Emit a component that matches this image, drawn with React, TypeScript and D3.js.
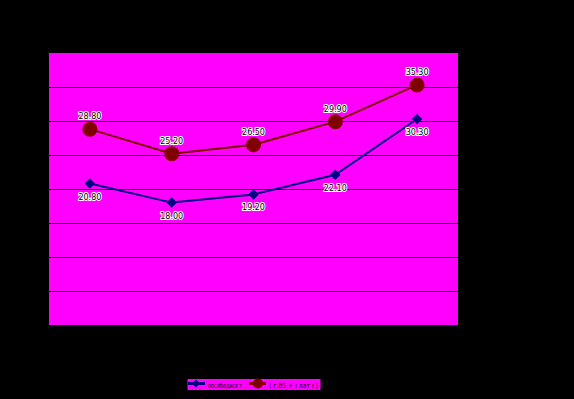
import React, { useEffect, useRef } from 'react';
import * as d3 from 'd3';

const categories = ['1', '2', '3', '4', '5'];
const seriesBlue = [20.8, 18.0, 19.2, 22.1, 30.3];
const seriesRed = [28.8, 25.2, 26.5, 29.9, 35.3];
const seriesNames = ['послбюдисе т', '( г.б5 + ı лат ı )'];
const yTicks = [5, 10, 15, 20, 25, 30, 35];

const App: React.FC = () => {
  const svgRef = useRef<SVGSVGElement>(null);

  useEffect(() => {
    if (!svgRef.current) return;
    const svg = d3.select(svgRef.current);
    svg.selectAll('*').remove();

    const width = 574;
    const height = 399;
    const plot = { left: 49, right: 458, top: 53, bottom: 325 };

    svg.append('rect').attr('width', width).attr('height', height).attr('fill', '#000');

    const x = d3
      .scalePoint<string>()
      .domain(categories)
      .range([plot.left, plot.right])
      .padding(0.5);
    const y = d3.scaleLinear().domain([0, 40]).range([plot.bottom, plot.top]);

    // plot area
    svg
      .append('rect')
      .attr('x', plot.left)
      .attr('y', plot.top)
      .attr('width', plot.right - plot.left)
      .attr('height', plot.bottom - plot.top)
      .attr('fill', '#ff00ff');

    // gridlines
    svg
      .append('g')
      .selectAll('line')
      .data(yTicks)
      .enter()
      .append('line')
      .attr('x1', plot.left)
      .attr('x2', plot.right)
      .attr('y1', d => Math.round(y(d)) + 0.5)
      .attr('y2', d => Math.round(y(d)) + 0.5)
      .attr('stroke', '#000')
      .attr('stroke-width', 1);

    const line = d3
      .line<number>()
      .x((_, i) => x(categories[i]) ?? 0)
      .y(d => y(d));

    // blue series
    svg
      .append('path')
      .datum(seriesBlue)
      .attr('d', line)
      .attr('fill', 'none')
      .attr('stroke', '#000080')
      .attr('stroke-width', 2);

    svg
      .append('g')
      .selectAll('path')
      .data(seriesBlue)
      .enter()
      .append('path')
      .attr('d', d3.symbol().type(d3.symbolDiamond2).size(70))
      .attr('transform', (d, i) => `translate(${x(categories[i])},${y(d)})`)
      .attr('fill', '#000080');

    // red series
    svg
      .append('path')
      .datum(seriesRed)
      .attr('d', line)
      .attr('fill', 'none')
      .attr('stroke', '#800000')
      .attr('stroke-width', 2);

    svg
      .append('g')
      .selectAll('circle')
      .data(seriesRed)
      .enter()
      .append('circle')
      .attr('cx', (_, i) => x(categories[i]) ?? 0)
      .attr('cy', d => y(d))
      .attr('r', 7.5)
      .attr('fill', '#800000');

    // data labels
    const label = (g: d3.Selection<SVGGElement, unknown, null, undefined>, data: number[], dy: number) =>
      g
        .selectAll('text')
        .data(data)
        .enter()
        .append('text')
        .attr('x', (_, i) => x(categories[i]) ?? 0)
        .attr('y', d => y(d) + dy)
        .attr('text-anchor', 'middle')
        .attr('font-family', 'DejaVu Sans, sans-serif')
        .attr('font-size', 8)
        .attr('fill', '#000')
        .attr('stroke', '#fff')
        .attr('stroke-width', 2)
        .attr('paint-order', 'stroke')
        .text(d => d.toFixed(2));

    label(svg.append('g'), seriesRed, -10);
    label(svg.append('g'), seriesBlue, 16);

    // legend
    const lg = svg.append('g');
    lg.append('rect')
      .attr('x', 187)
      .attr('y', 378.5)
      .attr('width', 134)
      .attr('height', 12)
      .attr('fill', '#ff00ff')
      .attr('stroke', '#000');

    lg.append('line')
      .attr('x1', 188).attr('x2', 205)
      .attr('y1', 383.5).attr('y2', 383.5)
      .attr('stroke', '#000080').attr('stroke-width', 3);
    lg.append('path')
      .attr('d', d3.symbol().type(d3.symbolDiamond2).size(40))
      .attr('transform', 'translate(196,383.5)')
      .attr('fill', '#000080');
    lg.append('text')
      .attr('x', 208).attr('y', 388)
      .attr('font-family', 'DejaVu Sans, sans-serif')
      .attr('font-size', 7)
      .attr('textLength', 34)
      .attr('lengthAdjust', 'spacingAndGlyphs')
      .attr('fill', '#000')
      .text(seriesNames[0]);

    lg.append('line')
      .attr('x1', 249).attr('x2', 266)
      .attr('y1', 383.5).attr('y2', 383.5)
      .attr('stroke', '#800000').attr('stroke-width', 3);
    lg.append('circle')
      .attr('cx', 258).attr('cy', 383.5).attr('r', 5)
      .attr('fill', '#800000');
    lg.append('text')
      .attr('x', 269).attr('y', 388)
      .attr('font-family', 'DejaVu Sans, sans-serif')
      .attr('font-size', 7)
      .attr('textLength', 49)
      .attr('lengthAdjust', 'spacingAndGlyphs')
      .attr('fill', '#000')
      .text(seriesNames[1]);
  }, []);

  return (
    <svg
      ref={svgRef}
      width={574}
      height={399}
      style={{ position: 'absolute', left: 0, top: 0, display: 'block' }}
    />
  );
};

export default App;
